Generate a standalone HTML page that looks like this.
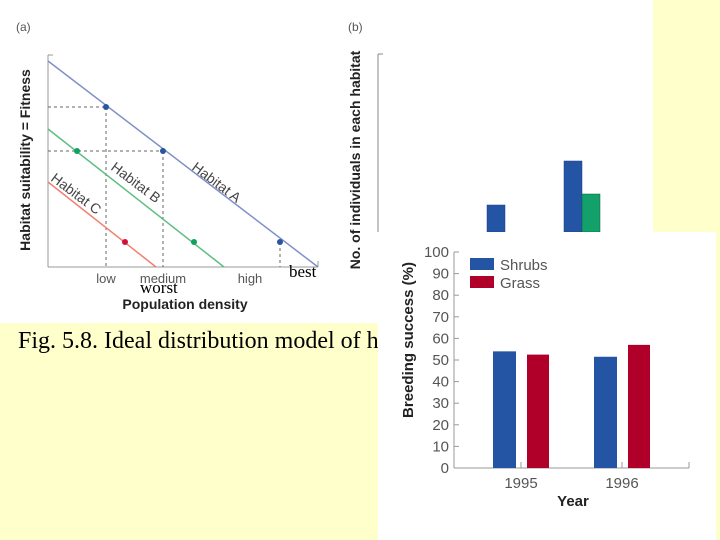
<!DOCTYPE html>
<html><head><meta charset="utf-8"><style>
body{margin:0;width:720px;height:540px;overflow:hidden;background:#ffffcc;position:relative;font-family:"Liberation Sans",sans-serif}
.abs{position:absolute}
</style></head><body>
<div class="abs" style="left:0;top:0;width:653px;height:323px;background:#fff"></div>
<div class="abs" style="left:18px;top:328px;font:24px 'Liberation Serif',serif;color:#000;white-space:nowrap">Fig. 5.8. Ideal distribution model of h</div>
<svg class="abs" style="left:0;top:0" width="720" height="540">
<g font-family="Liberation Sans, sans-serif">
<text x="16" y="31" font-size="12" fill="#555">(a)</text>
<line x1="48" y1="55" x2="48" y2="267" stroke="#999"/>
<line x1="48" y1="55" x2="53" y2="55" stroke="#999"/>
<line x1="48" y1="267" x2="318" y2="267" stroke="#999"/>
<line x1="318" y1="261" x2="318" y2="267" stroke="#999"/>
<g stroke="#666" stroke-dasharray="3,3" fill="none">
<line x1="48" y1="107" x2="106" y2="107"/><line x1="48" y1="151" x2="163" y2="151"/>
<line x1="106" y1="107" x2="106" y2="267"/><line x1="163" y1="151" x2="163" y2="267"/><line x1="280" y1="242" x2="280" y2="267"/>
</g>
<line x1="48" y1="61" x2="318" y2="267" stroke="#8090c8" stroke-width="1.5"/>
<line x1="48" y1="129" x2="224" y2="267" stroke="#5cbf80" stroke-width="1.5"/>
<line x1="48" y1="182" x2="156" y2="267" stroke="#f08070" stroke-width="1.5"/>
<circle cx="106" cy="107" r="3" fill="#2a55a0"/><circle cx="163" cy="151" r="3" fill="#2a55a0"/><circle cx="280" cy="242" r="3" fill="#2a55a0"/>
<circle cx="77" cy="151" r="3" fill="#10a060"/><circle cx="194" cy="242" r="3" fill="#10a060"/>
<circle cx="125" cy="242" r="3" fill="#d0103a"/>
<text transform="translate(191,169) rotate(37)" font-size="14" fill="#444">Habitat A</text>
<text transform="translate(110,169) rotate(37)" font-size="14" fill="#444">Habitat B</text>
<text transform="translate(50,180) rotate(37)" font-size="14" fill="#444">Habitat C</text>
<text x="106" y="283" font-size="13" fill="#555" text-anchor="middle">low</text>
<text x="163" y="283" font-size="13" fill="#555" text-anchor="middle">medium</text>
<text x="250" y="283" font-size="13" fill="#555" text-anchor="middle">high</text>
<text x="289" y="277" font-size="17" font-family="Liberation Serif, serif">best</text>
<text x="140" y="293" font-size="17" font-family="Liberation Serif, serif">worst</text>
<text x="185" y="309" font-size="14" font-weight="bold" text-anchor="middle" fill="#222">Population density</text>
<text transform="translate(30,160) rotate(-90)" font-size="14" font-weight="bold" text-anchor="middle" fill="#222">Habitat suitability = Fitness</text>
</g>
<g>
<text x="348" y="31" font-size="12" fill="#555">(b)</text>
<line x1="378" y1="54" x2="378" y2="232" stroke="#888"/><line x1="378" y1="54" x2="383" y2="54" stroke="#888"/>
<text transform="translate(360,160) rotate(-90)" font-size="14" font-weight="bold" text-anchor="middle" fill="#222">No. of individuals in each habitat</text>
<rect x="487" y="205" width="18" height="27" fill="#2455a4" stroke="#1a3a80" stroke-width=".5"/>
<rect x="564" y="161" width="18" height="71" fill="#2455a4" stroke="#1a3a80" stroke-width=".5"/>
<rect x="582" y="194" width="18" height="38" fill="#13a06a" stroke="#0a6040" stroke-width=".5"/>
</g>
<rect x="378" y="232" width="338" height="308" fill="#fff"/>
<g id="bc" font-family="Liberation Sans, sans-serif"></g>
</svg>
<script>
const years=["1995","1996"];
const shrubs=[54,51.5];
const grass=[52.5,57];
const yTicks=[0,10,20,30,40,50,60,70,80,90,100];
const NS="http://www.w3.org/2000/svg";
const g=document.getElementById('bc');
const y=v=>468-v*2.16;
const xc=i=>521+i*101;
function mk(t,a,p){const e=document.createElementNS(NS,t);for(const k in a)e.setAttribute(k,a[k]);(p||g).appendChild(e);return e;}
mk('line',{x1:454,y1:252,x2:454,y2:468,stroke:'#999'});
mk('line',{x1:454,y1:468,x2:689,y2:468,stroke:'#999'});
mk('line',{x1:689,y1:462,x2:689,y2:468,stroke:'#999'});
yTicks.forEach(v=>{
 mk('line',{x1:454,y1:y(v),x2:459,y2:y(v),stroke:'#999'});
 const t=mk('text',{x:449,y:y(v)+5,'font-size':15,'text-anchor':'end',fill:'#555'});t.textContent=v;
 
 
});
years.forEach((yr,i)=>{
 mk('line',{x1:xc(i),y1:462,x2:xc(i),y2:468,stroke:'#999'});
 const t=mk('text',{x:xc(i),y:488,'font-size':15,'text-anchor':'middle',fill:'#555'});t.textContent=yr;
 
 
 const b1=mk('rect',{x:xc(i)-28,y:y(shrubs[i]),width:23,height:y(0)-y(shrubs[i]),fill:'#2455a4'});
 
 
 const b2=mk('rect',{x:xc(i)+6,y:y(grass[i]),width:22,height:y(0)-y(grass[i]),fill:'#b0002a'});
 
 
});
const l1=mk('rect',{x:470,y:258,width:24,height:12,fill:'#2455a4'});


const l2=mk('rect',{x:470,y:276,width:24,height:12,fill:'#b0002a'});


let t=mk('text',{x:500,y:270,'font-size':15,fill:'#555'});t.textContent='Shrubs';
t=mk('text',{x:500,y:288,'font-size':15,fill:'#555'});t.textContent='Grass';
t=mk('text',{x:573,y:506,'font-size':15,'font-weight':'bold','text-anchor':'middle',fill:'#222'});t.textContent='Year';


t=mk('text',{transform:'translate(413,340) rotate(-90)','font-size':15,'font-weight':'bold','text-anchor':'middle',fill:'#222'});t.textContent='Breeding success (%)';


</script>
</body></html>
